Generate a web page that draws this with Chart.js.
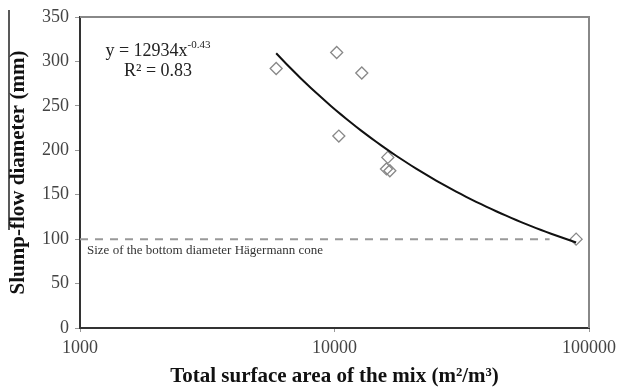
<!DOCTYPE html>
<html>
<head>
<meta charset="utf-8">
<script src="https://cdn.jsdelivr.net/npm/chart.js@4"></script>
<style>
  html, body { margin: 0; padding: 0; background: #fff; }
  #wrap { width: 621px; height: 391px; }
</style>
</head>
<body>
<div id="wrap"><canvas id="chart" width="621" height="391"></canvas></div>
<script>
// Measured mixes
const surfaceArea = [5900, 10200, 12800, 10400, 16200, 16000, 16500, 89000];
const slumpFlow = [292, 310, 287, 216, 192, 179, 177, 100];

// Power fit y = a * x^b
const fitCoef = 12934;
const fitExp = -0.43;
const fitR2 = 0.83;
const fitRange = [5900, 89000];

// Bottom diameter of the Hägermann cone
const coneDiameter = 100;
const coneRange = [1000, 70000];

const xTicks = [1000, 10000, 100000];
const yMin = 0, yMax = 350, yStep = 50;

const serif = '"Liberation Serif", "Times New Roman", serif';

// sample the fitted curve along the x range (log spaced)
const fitPoints = [];
const steps = 60;
const l0 = Math.log10(fitRange[0]), l1 = Math.log10(fitRange[1]);
for (let i = 0; i <= steps; i++) {
  const x = Math.pow(10, l0 + (l1 - l0) * i / steps);
  fitPoints.push({ x: x, y: fitCoef * Math.pow(x, fitExp) });
}

const extras = {
  id: 'extras',
  afterDatasetsDraw(chart) {
    const { ctx, chartArea: a, scales } = chart;
    ctx.save();

    // top and right frame
    ctx.strokeStyle = '#888';
    ctx.lineWidth = 2;
    ctx.beginPath();
    ctx.moveTo(a.left, a.top);
    ctx.lineTo(a.right, a.top);
    ctx.lineTo(a.right, a.bottom);
    ctx.stroke();

    // stray rule next to the y title
    ctx.strokeStyle = '#222';
    ctx.lineWidth = 1.5;
    ctx.beginPath();
    ctx.moveTo(9, 10);
    ctx.lineTo(9, 230);
    ctx.stroke();

    // fit equation
    ctx.fillStyle = '#222';
    ctx.textBaseline = 'middle';
    ctx.font = '18px ' + serif;
    const main = 'y = ' + fitCoef + 'x';
    const sup = String(fitExp).replace('-', '-');
    const mw = ctx.measureText(main).width;
    ctx.font = '11px ' + serif;
    const sw = ctx.measureText(sup).width;
    const cx = 158;
    let x0 = cx - (mw + sw) / 2;
    ctx.textAlign = 'left';
    ctx.font = '18px ' + serif;
    ctx.fillText(main, x0, 51);
    ctx.font = '11px ' + serif;
    ctx.fillText(sup, x0 + mw, 45);
    ctx.font = '18px ' + serif;
    ctx.textAlign = 'center';
    ctx.fillText('R² = ' + fitR2.toFixed(2), cx, 71);

    // cone label under the dashed line
    ctx.font = '13px ' + serif;
    ctx.fillStyle = '#333';
    ctx.textAlign = 'left';
    ctx.fillText('Size of the bottom diameter Hägermann cone', 87, scales.y.getPixelForValue(coneDiameter) + 11);

    ctx.restore();
  }
};

new Chart(document.getElementById('chart'), {
  type: 'scatter',
  data: {
    datasets: [
      {
        label: 'Hägermann cone',
        data: coneRange.map(x => ({ x: x, y: coneDiameter })),
        showLine: true,
        borderColor: '#999',
        borderWidth: 2,
        borderDash: [8, 7],
        pointRadius: 0
      },
      {
        label: 'Power fit',
        data: fitPoints,
        showLine: true,
        borderColor: '#111',
        borderWidth: 2,
        pointRadius: 0,
        tension: 0
      },
      {
        label: 'Slump-flow',
        data: surfaceArea.map((x, i) => ({ x: x, y: slumpFlow[i] })),
        pointStyle: 'rectRot',
        pointRadius: 6,
        pointBorderWidth: 1.3,
        pointBorderColor: '#888',
        pointBackgroundColor: 'rgba(255,255,255,0)'
      }
    ]
  },
  options: {
    responsive: false,
    animation: false,
    layout: { autoPadding: false, padding: { top: 17, right: 29, left: 0, bottom: 0 } },
    plugins: { legend: { display: false }, tooltip: { enabled: false } },
    scales: {
      x: {
        type: 'logarithmic',
        min: xTicks[0],
        max: xTicks[xTicks.length - 1],
        afterBuildTicks: s => { s.ticks = xTicks.map(v => ({ value: v })); },
        afterFit: s => { s.height = 63; },
        ticks: {
          callback: v => String(v),
          font: { family: serif, size: 18 },
          color: '#444',
          padding: 5,
          maxRotation: 0,
          autoSkip: false
        },
        grid: { display: true, drawOnChartArea: false, drawTicks: true, tickLength: 4, color: '#999' },
        border: { display: true, color: '#333', width: 2 },
        title: {
          display: true,
          text: 'Total surface area of the mix (m²/m³)',
          font: { family: serif, size: 21, weight: 'bold' },
          color: '#111',
          padding: { top: 0, bottom: 2 }
        }
      },
      y: {
        min: yMin,
        max: yMax,
        afterFit: s => { s.width = 80; },
        ticks: {
          stepSize: yStep,
          font: { family: serif, size: 18 },
          color: '#444',
          padding: 6
        },
        grid: { display: true, drawOnChartArea: false, drawTicks: true, tickLength: 5, color: '#999' },
        border: { display: true, color: '#333', width: 2 },
        title: {
          display: true,
          text: 'Slump-flow diameter (mm)',
          font: { family: serif, size: 21, weight: 'bold' },
          color: '#111',
          padding: { top: 6, bottom: 0 }
        }
      }
    }
  },
  plugins: [extras]
});
</script>
</body>
</html>
